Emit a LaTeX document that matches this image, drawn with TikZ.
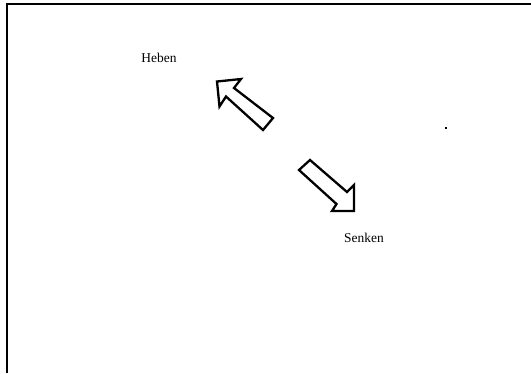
\documentclass[tikz,border=0pt]{standalone}
\usepackage{fontspec}
\setmainfont{Liberation Serif}
\begin{document}
\begin{tikzpicture}[x=1bp,y=1bp]
    \tikzstyle{every node}+=[inner sep=0pt]
    \tikzstyle{hollowarrow}=[draw=black, fill=white, line width=2.3bp, line join=miter]
    \useasboundingbox (0,0) rectangle (531,-373);
    \draw [black, line width=2bp] (7,-373) -- (7,-4) -- (531,-4);
    \draw (159,-57.5) node[font=\fontsize{13.5}{15}\selectfont] (heben) {Heben};
    \draw (364,-237.5) node[font=\fontsize{13.5}{15}\selectfont] (senken) {Senken};
    \draw [hollowarrow] (217,-81.5) -- (241,-79) -- (234,-88) -- (273,-118)
        -- (263,-130) -- (226,-96.5) -- (219.5,-106.5) -- cycle;
    \draw [hollowarrow] (354,-211) -- (332,-211) -- (336.5,-204) -- (299,-170)
        -- (310,-160) -- (347,-192) -- (354,-185) -- cycle;
    \fill [black] (444.8,-127.3) rectangle (446.8,-129.3);
\end{tikzpicture}
\end{document}
